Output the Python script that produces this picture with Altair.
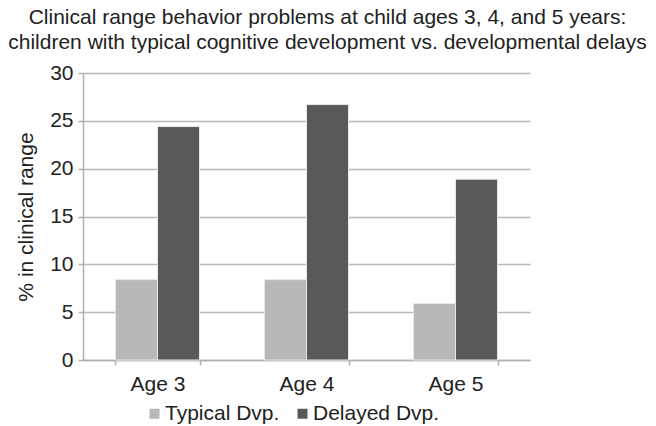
import altair as alt
import pandas as pd

ages = ["Age 3", "Age 4", "Age 5"]
groups = ["Typical Dvp.", "Delayed Dvp."]
typical = [8.4, 8.4, 5.9]
delayed = [24.4, 26.7, 18.9]
y_ticks = [0, 5, 10, 15, 20, 25, 30]

rows = []
for a, t, d in zip(ages, typical, delayed):
    rows.append({"age": a, "group": groups[0], "value": t})
    rows.append({"age": a, "group": groups[1], "value": d})
df = pd.DataFrame(rows)

FONT = "Liberation Sans"
FS = 21

chart = alt.Chart(df).mark_bar(stroke="#e8e8e8", strokeWidth=1).encode(
    x=alt.X("age:N", sort=ages, title=None,
            scale=alt.Scale(paddingInner=0.436, paddingOuter=0.218),
            axis=alt.Axis(labelAngle=0, tickBand="extent", labelFontSize=FS,
                          labelFont=FONT, labelColor="#222", labelPadding=8,
                          domainColor="#b0b0b0", tickColor="#b0b0b0",
                          tickSize=5, domainWidth=1.5, tickWidth=1.5, grid=False)),
    xOffset=alt.XOffset("group:N", sort=groups, scale=alt.Scale(paddingInner=0, paddingOuter=0)),
    y=alt.Y("value:Q", title="% in clinical range",
            scale=alt.Scale(domain=[0, 30], nice=False),
            axis=alt.Axis(values=y_ticks, labelFontSize=FS, labelFont=FONT,
                          labelColor="#222", titleFont=FONT, titleFontSize=FS,
                          titleFontWeight="normal", titleColor="#222",
                          titlePadding=13, labelPadding=5,
                          domainColor="#b0b0b0", tickColor="#b0b0b0",
                          gridColor="#b8b8b8", gridWidth=1.5,
                          domainWidth=1.5, tickWidth=1.5, tickSize=5)),
    color=alt.Color("group:N", sort=groups,
                    scale=alt.Scale(domain=groups, range=["#b8b8b8", "#595959"]),
                    legend=alt.Legend(title=None, orient="none", direction="horizontal",
                                      legendX=61, legendY=330, symbolType="square",
                                      symbolSize=100, symbolStrokeWidth=0,
                                      labelFontSize=FS, labelFont=FONT,
                                      labelColor="#222", columnPadding=12,
                                      labelOffset=0)),
).properties(
    width=447, height=287,
    title=alt.TitleParams(
        text=["Clinical range behavior problems at child ages 3, 4, and 5 years:",
              "children with typical cognitive development vs. developmental delays"],
        fontSize=FS, font=FONT, fontWeight="normal", color="#222",
        anchor="middle", frame="group", dx=21, offset=9, lineHeight=25),
    padding={"left": 83, "top": 73, "right": 126, "bottom": 66},
    autosize=alt.AutoSizeParams(type="none"),
).configure_view(stroke=None)

chart.save("out.html", embed_options={"renderer": "svg", "actions": False})
